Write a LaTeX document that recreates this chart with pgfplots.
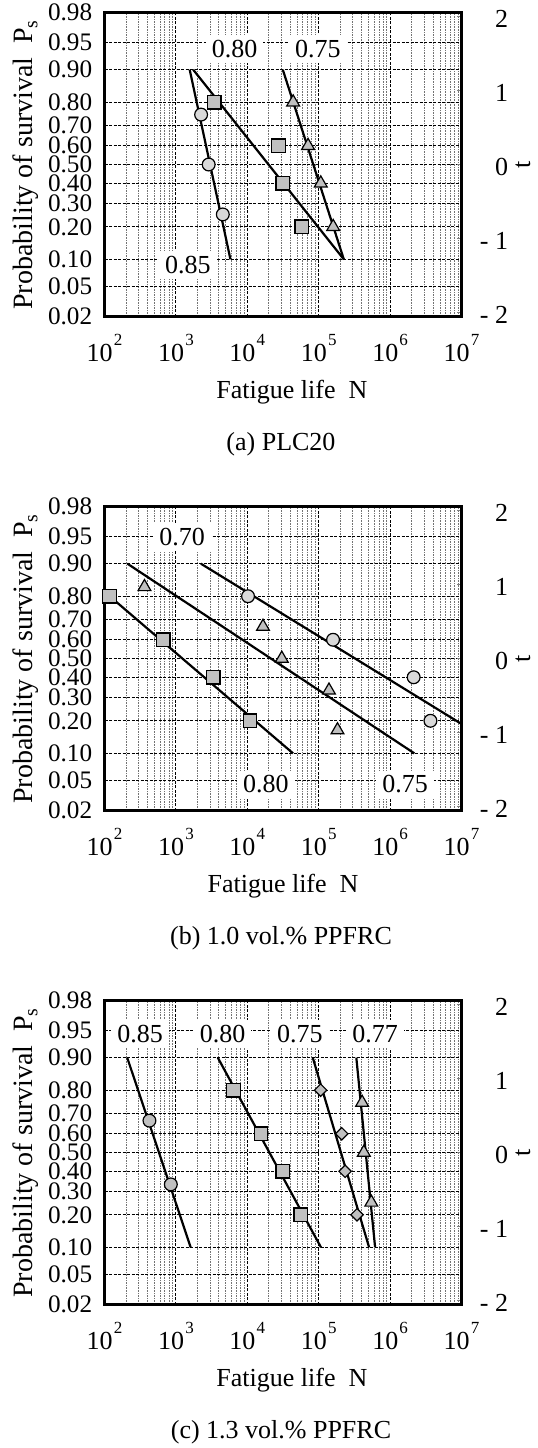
\documentclass[border=0pt]{standalone}
\usepackage{fontspec}
\setmainfont{Liberation Serif}
\usepackage{pgfplots}
\pgfplotsset{compat=1.18}
\definecolor{mk}{HTML}{C0C0C0}
\definecolor{mkl}{HTML}{D9D9D9}
\newcommand{\tp}[1]{10\kern0.6pt\raisebox{0.62em}{\fontsize{8.5}{9}\selectfont #1}}
\tikzset{
 mline/.style={mark=none, black, line width=1.1pt},
 msq/.style={only marks, mark=square*, mark size=3.4pt, mark options={fill=mk, draw=black, line width=0.6pt}},
 mci/.style={only marks, mark=*, mark size=3.2pt, mark options={fill=mkl, draw=black, line width=0.6pt}},
 mcd/.style={only marks, mark=*, mark size=3.2pt, mark options={fill=mk, draw=black, line width=0.6pt}},
 mtr/.style={only marks, mark=triangle*, mark size=3.7pt, mark options={fill=mk, draw=black, line width=0.6pt}},
 mdi/.style={only marks, mark=square*, mark size=2.2pt, mark options={rotate=45, fill=mk, draw=black, line width=0.6pt}},
 boxlab/.style={fill=white, inner xsep=3pt, inner ysep=2.5pt},
 gridmaj/.style={black, line width=0.45pt, dash pattern=on 1.5pt off 0.75pt},
 gridmin/.style={black!55, line width=0.45pt, dash pattern=on 0.8pt off 0.5pt},
}

\begin{document}
\begin{tikzpicture}[font=\fontsize{13}{15}\selectfont]
% ================= (a) PLC20 =================
\begin{axis}[at={(0pt,0pt)}, anchor=south west,
  scale only axis, width=178.5pt, height=152pt,
  xmode=log, xmin=100, xmax=10000000, ymin=-2.0537, ymax=2.0537,
  xtick={100,1000,10000,100000,1000000,10000000},
  xticklabels={\tp{2},\tp{3},\tp{4},\tp{5},\tp{6},\tp{7}},
  minor xtick={200,300,400,500,600,700,800,900,2000,3000,4000,5000,6000,7000,8000,9000,20000,30000,40000,50000,60000,70000,80000,90000,200000,300000,400000,500000,600000,700000,800000,900000,2000000,3000000,4000000,5000000,6000000,7000000,8000000,9000000},
  ytick={-2.0537,-1.6449,-1.2816,-0.8416,-0.5244,-0.2533,0,0.2533,0.5244,0.8416,1.2816,1.6449,2.0537},
  yticklabels={0.02,0.05,0.10,0.20,0.30,0.40,0.50,0.60,0.70,0.80,0.90,0.95,0.98},
  xmajorgrids=true, xminorgrids=true, ymajorgrids=true,
  major tick length=0pt, minor tick length=0pt,
  minor grid style={gridmin}, major grid style={gridmaj},
  axis line style={line width=1.4pt},
  xticklabel style={anchor=base, yshift=-22.6pt},
  yticklabel style={anchor=east, inner sep=0pt, xshift=-6pt, font=\fontsize{12.6}{14}\selectfont},
  xlabel={Fatigue life\ \ N}, ylabel={Probability of survival\ \ P\textsubscript{s}},
  xlabel style={at={(axis description cs:0.525,0)}, anchor=base, yshift=-41pt},
  ylabel style={at={(axis description cs:-0.2003,0.5)}, rotate=0, anchor=base, font=\fontsize{14}{16}\selectfont},
]
\addplot[mline] coordinates {(1560,1.2816)(5808,-1.2816)};
\addplot[mline] coordinates {(1746,1.2816)(224905,-1.2816)};
\addplot[mline] coordinates {(31405,1.2816)(224905,-1.2816)};
\addplot[mci] coordinates {(2254,0.6745)(2877,0)(4539,-0.6745)};
\addplot[msq] coordinates {(3436,0.8416)(27479,0.2533)(31405,-0.2533)(58076,-0.8416)};
\addplot[mtr] coordinates {(43853,0.8416)(70958,0.2533)(106905,-0.2533)(159588,-0.8416)};
\node[boxlab] at (axis cs:6622,1.56) {0.80};
\node[boxlab] at (axis cs:97724,1.56) {0.75};
\node[boxlab] at (axis cs:1476,-1.36) {0.85};
\end{axis}
\begin{axis}[at={(0pt,0pt)}, anchor=south west,
  scale only axis, width=178.5pt, height=152pt,
  xmin=0, xmax=1, ymin=-2.0537, ymax=2.0537,
  axis x line=none, axis y line*=right,
  ytick={-2,-1,0,1,2}, yticklabels={{- 2},{- 1},0,1,2},
  tick align=inside, major tick length=2.5pt, minor tick length=0pt,
  yticklabel style={anchor=east, inner sep=0pt, xshift=23.5pt, yshift=-1pt},
  axis line style={line width=1.4pt},
  ylabel={t},
  ylabel style={at={(axis description cs:1.172,0.5)}, rotate=0, anchor=center, inner sep=0pt},
]
\addplot[draw=none] coordinates {(0.5,0)};
\end{axis}
\node[anchor=base] at (88.25pt,-67pt) {(a) PLC20};

% ================= (b) 1.0 vol.% PPFRC =================
\begin{axis}[at={(0pt,-247pt)}, anchor=south west,
  scale only axis, width=178.5pt, height=152pt,
  xmode=log, xmin=100, xmax=10000000, ymin=-2.0537, ymax=2.0537,
  xtick={100,1000,10000,100000,1000000,10000000},
  xticklabels={\tp{2},\tp{3},\tp{4},\tp{5},\tp{6},\tp{7}},
  minor xtick={200,300,400,500,600,700,800,900,2000,3000,4000,5000,6000,7000,8000,9000,20000,30000,40000,50000,60000,70000,80000,90000,200000,300000,400000,500000,600000,700000,800000,900000,2000000,3000000,4000000,5000000,6000000,7000000,8000000,9000000},
  ytick={-2.0537,-1.6449,-1.2816,-0.8416,-0.5244,-0.2533,0,0.2533,0.5244,0.8416,1.2816,1.6449,2.0537},
  yticklabels={0.02,0.05,0.10,0.20,0.30,0.40,0.50,0.60,0.70,0.80,0.90,0.95,0.98},
  xmajorgrids=true, xminorgrids=true, ymajorgrids=true,
  major tick length=0pt, minor tick length=0pt,
  minor grid style={gridmin}, major grid style={gridmaj},
  axis line style={line width=1.4pt},
  xticklabel style={anchor=base, yshift=-22.6pt},
  yticklabel style={anchor=east, inner sep=0pt, xshift=-6pt, font=\fontsize{12.6}{14}\selectfont},
  xlabel={Fatigue life\ \ N}, ylabel={Probability of survival\ \ P\textsubscript{s}},
  xlabel style={at={(axis description cs:0.5,0)}, anchor=base, yshift=-41pt},
  ylabel style={at={(axis description cs:-0.2003,0.5)}, rotate=0, anchor=base, font=\fontsize{14}{16}\selectfont},
]
\addplot[mline] coordinates {(34.7,1.2816)(43752,-1.2816)};
\addplot[mline] coordinates {(209,1.2816)(2187762,-1.2816)};
\addplot[mline] coordinates {(2234,1.2816)(46800000,-1.2816)};
\addplot[msq] coordinates {(118,0.8416)(665,0.2533)(3327,-0.2533)(10914,-0.8416)};
\addplot[mtr] coordinates {(363,0.9674)(16596,0.4307)(30409,0)(139316,-0.4307)(183231,-0.9674)};
\addplot[mci] coordinates {(10233,0.8416)(158866,0.2533)(2137962,-0.2533)(3672823,-0.8416)};
\node[boxlab] at (axis cs:1219,1.64) {0.70};
\node[boxlab] at (axis cs:18197,-1.70) {0.80};
\node[boxlab] at (axis cs:1620000,-1.70) {0.75};
\end{axis}
\begin{axis}[at={(0pt,-247pt)}, anchor=south west,
  scale only axis, width=178.5pt, height=152pt,
  xmin=0, xmax=1, ymin=-2.0537, ymax=2.0537,
  axis x line=none, axis y line*=right,
  ytick={-2,-1,0,1,2}, yticklabels={{- 2},{- 1},0,1,2},
  tick align=inside, major tick length=2.5pt, minor tick length=0pt,
  yticklabel style={anchor=east, inner sep=0pt, xshift=23.5pt, yshift=-1pt},
  axis line style={line width=1.4pt},
  ylabel={t},
  ylabel style={at={(axis description cs:1.172,0.5)}, rotate=0, anchor=center, inner sep=0pt},
]
\addplot[draw=none] coordinates {(0.5,0)};
\end{axis}
\node[anchor=base] at (88.25pt,-314pt) {(b) 1.0 vol.\% PPFRC};

% ================= (c) 1.3 vol.% PPFRC =================
\begin{axis}[at={(0pt,-494pt)}, anchor=south west,
  scale only axis, width=178.5pt, height=152pt,
  xmode=log, xmin=100, xmax=10000000, ymin=-2.0537, ymax=2.0537,
  xtick={100,1000,10000,100000,1000000,10000000},
  xticklabels={\tp{2},\tp{3},\tp{4},\tp{5},\tp{6},\tp{7}},
  minor xtick={200,300,400,500,600,700,800,900,2000,3000,4000,5000,6000,7000,8000,9000,20000,30000,40000,50000,60000,70000,80000,90000,200000,300000,400000,500000,600000,700000,800000,900000,2000000,3000000,4000000,5000000,6000000,7000000,8000000,9000000},
  ytick={-2.0537,-1.6449,-1.2816,-0.8416,-0.5244,-0.2533,0,0.2533,0.5244,0.8416,1.2816,1.6449,2.0537},
  yticklabels={0.02,0.05,0.10,0.20,0.30,0.40,0.50,0.60,0.70,0.80,0.90,0.95,0.98},
  xmajorgrids=true, xminorgrids=true, ymajorgrids=true,
  major tick length=0pt, minor tick length=0pt,
  minor grid style={gridmin}, major grid style={gridmaj},
  axis line style={line width=1.4pt},
  xticklabel style={anchor=base, yshift=-22.6pt},
  yticklabel style={anchor=east, inner sep=0pt, xshift=-6pt, font=\fontsize{12.6}{14}\selectfont},
  xlabel={Fatigue life\ \ N}, ylabel={Probability of survival\ \ P\textsubscript{s}},
  xlabel style={at={(axis description cs:0.525,0)}, anchor=base, yshift=-41pt},
  ylabel style={at={(axis description cs:-0.2003,0.5)}, rotate=0, anchor=base, font=\fontsize{14}{16}\selectfont},
]
\addplot[mline] coordinates {(208,1.2816)(1611,-1.2816)};
\addplot[mline] coordinates {(3864,1.2816)(107647,-1.2816)};
\addplot[mline] coordinates {(82604,1.2816)(508159,-1.2816)};
\addplot[mline] coordinates {(336512,1.2816)(616595,-1.2816)};
\addplot[mcd] coordinates {(426,0.4307)(849,-0.4307)};
\addplot[msq] coordinates {(6412,0.8416)(15596,0.2533)(31477,-0.2533)(56234,-0.8416)};
\addplot[mdi] coordinates {(106414,0.8416)(209894,0.2533)(234423,-0.2533)(344350,-0.8416)};
\addplot[mtr] coordinates {(405509,0.6745)(428549,0)(545758,-0.6745)};
\node[boxlab] at (axis cs:316,1.60) {0.85};
\node[boxlab] at (axis cs:4508,1.60) {0.80};
\node[boxlab] at (axis cs:54450,1.60) {0.75};
\node[boxlab] at (axis cs:615177,1.60) {0.77};
\end{axis}
\begin{axis}[at={(0pt,-494pt)}, anchor=south west,
  scale only axis, width=178.5pt, height=152pt,
  xmin=0, xmax=1, ymin=-2.0537, ymax=2.0537,
  axis x line=none, axis y line*=right,
  ytick={-2,-1,0,1,2}, yticklabels={{- 2},{- 1},0,1,2},
  tick align=inside, major tick length=2.5pt, minor tick length=0pt,
  yticklabel style={anchor=east, inner sep=0pt, xshift=23.5pt, yshift=-1pt},
  axis line style={line width=1.4pt},
  ylabel={t},
  ylabel style={at={(axis description cs:1.172,0.5)}, rotate=0, anchor=center, inner sep=0pt},
]
\addplot[draw=none] coordinates {(0.5,0)};
\end{axis}
\node[anchor=base] at (88.25pt,-561pt) {(c) 1.3 vol.\% PPFRC};

\pgfresetboundingbox
\useasboundingbox (-52.25pt,158.25pt) rectangle (216.25pt,-565.75pt);
\end{tikzpicture}
\end{document}
